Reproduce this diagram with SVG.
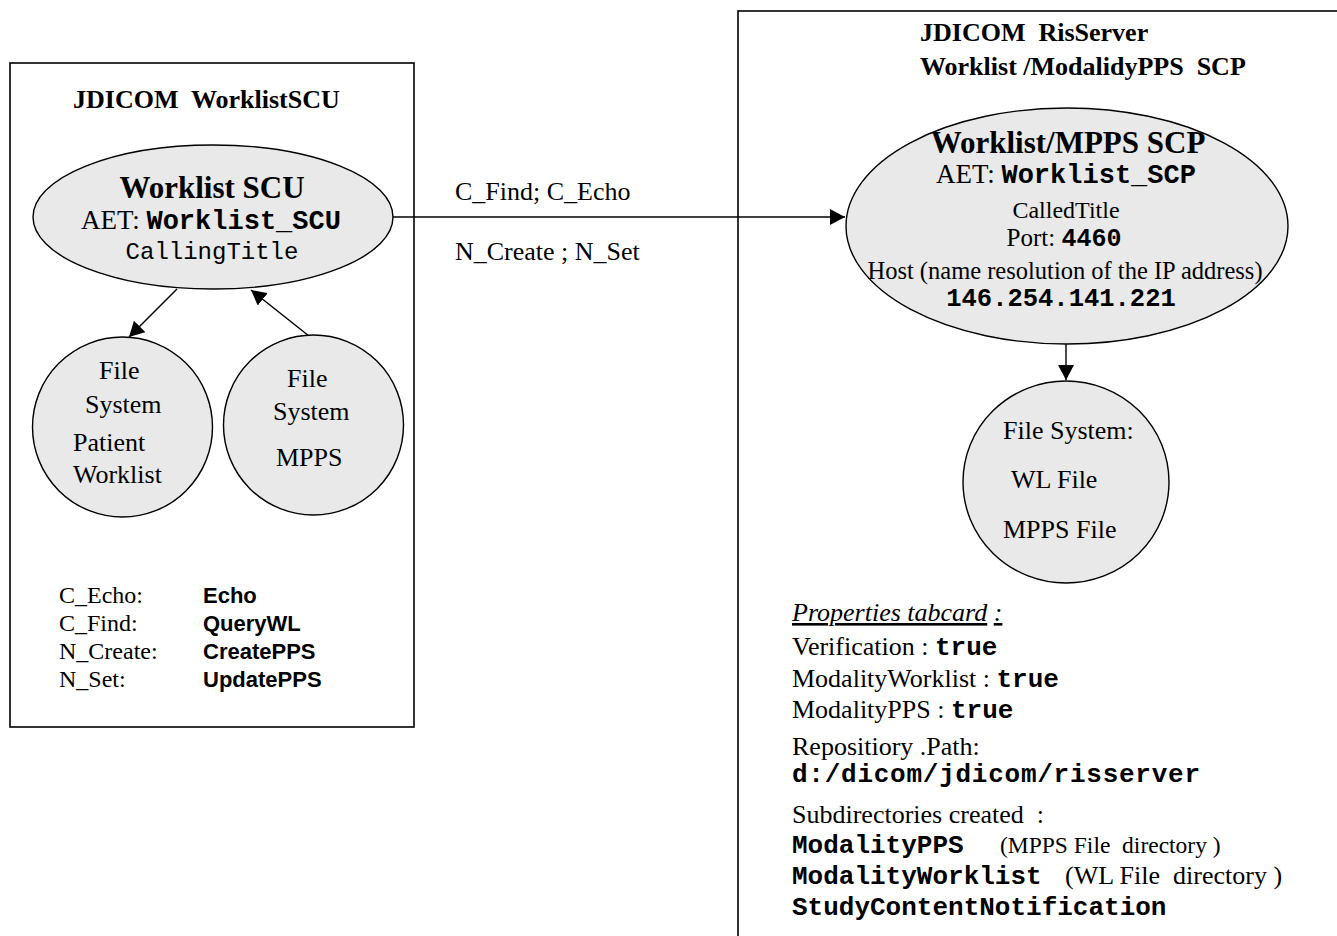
<svg xmlns="http://www.w3.org/2000/svg" width="1337" height="936" viewBox="0 0 1337 936">
<style>
.box{fill:#ffffff;stroke:#000;stroke-width:1.6}
.node{fill:#e9e9e9;stroke:#000;stroke-width:1.4}
.edge{fill:none;stroke:#000;stroke-width:1.4}
.t{font-family:"Liberation Serif","Times New Roman",serif;fill:#000;white-space:pre}
.b{font-weight:bold}
.m{font-family:"Liberation Mono","Courier New",monospace;fill:#000;white-space:pre}
.s{font-family:"Liberation Sans",Arial,sans-serif;font-weight:bold;fill:#000;font-size:22px}
</style>
<defs>
<marker id="arr" viewBox="0 0 15 16" refX="15" refY="8" markerWidth="15" markerHeight="16" markerUnits="userSpaceOnUse" orient="auto">
<path d="M0,0 L15,8 L0,16 Z" fill="#000"/>
</marker>
</defs>

<g id="scu-box">
<rect class="box" x="10" y="63" width="404" height="664"/>
<text class="t b" x="73" y="108" font-size="26">JDICOM  WorklistSCU</text>
</g>

<g id="scp-box">
<rect class="box" x="738" y="11" width="620" height="940"/>
<text class="t b" x="920" y="41" font-size="26">JDICOM  RisServer</text>
<text class="t b" x="920" y="75" font-size="26">Worklist /ModalidyPPS  SCP</text>
</g>

<g id="connectors">
<line class="edge" x1="393" y1="217" x2="845" y2="217" marker-end="url(#arr)"/>
<line class="edge" x1="177" y1="289" x2="129" y2="337" marker-end="url(#arr)"/>
<line class="edge" x1="309" y1="336" x2="251" y2="290" marker-end="url(#arr)"/>
<line class="edge" x1="1066" y1="344" x2="1066" y2="380" marker-end="url(#arr)"/>
<text class="t" x="455" y="200" font-size="26">C_Find; C_Echo</text>
<text class="t" x="455" y="260" font-size="26">N_Create ; N_Set</text>
</g>

<g id="worklist-scu">
<ellipse class="node" cx="213" cy="217" rx="180" ry="72"/>
<text class="t b" x="212" y="198" font-size="31" text-anchor="middle">Worklist SCU</text>
<text x="211" y="229" text-anchor="middle"><tspan class="t" font-size="27">AET: </tspan><tspan class="m b" font-size="27">Worklist_SCU</tspan></text>
<text class="m" x="212" y="259" font-size="24" text-anchor="middle">CallingTitle</text>
</g>

<g id="fs-patient-worklist">
<circle class="node" cx="122.5" cy="427" r="90"/>
<text class="t" x="99" y="379" font-size="26">File</text>
<text class="t" x="85" y="413" font-size="26">System</text>
<text class="t" x="73" y="451" font-size="26">Patient</text>
<text class="t" x="73" y="483" font-size="26">Worklist</text>
</g>

<g id="fs-mpps">
<circle class="node" cx="313.5" cy="425" r="90"/>
<text class="t" x="287" y="387" font-size="26">File</text>
<text class="t" x="273" y="420" font-size="26">System</text>
<text class="t" x="276" y="466" font-size="26">MPPS</text>
</g>

<g id="scu-commands">
<text class="t" x="59" y="603" font-size="24">C_Echo:</text>
<text class="t" x="59" y="631" font-size="24">C_Find:</text>
<text class="t" x="59" y="659" font-size="24">N_Create:</text>
<text class="t" x="59" y="687" font-size="24">N_Set:</text>
<text class="s" x="203" y="603">Echo</text>
<text class="s" x="203" y="631">QueryWL</text>
<text class="s" x="203" y="659">CreatePPS</text>
<text class="s" x="203" y="687">UpdatePPS</text>
</g>

<g id="worklist-mpps-scp">
<ellipse class="node" cx="1067" cy="226" rx="221" ry="118"/>
<text class="t b" x="1068" y="153" font-size="31" text-anchor="middle">Worklist/MPPS SCP</text>
<text x="1066" y="183" text-anchor="middle"><tspan class="t" font-size="27">AET: </tspan><tspan class="m b" font-size="27">Worklist_SCP</tspan></text>
<text class="t" x="1066" y="218" font-size="24" text-anchor="middle">CalledTitle</text>
<text x="1064" y="246" text-anchor="middle"><tspan class="t" font-size="25">Port: </tspan><tspan class="m b" font-size="25">4460</tspan></text>
<text class="t" x="1065" y="279" font-size="24.5" text-anchor="middle">Host (name resolution of the IP address)</text>
<text class="m b" x="1061" y="306" font-size="25.5" text-anchor="middle">146.254.141.221</text>
</g>

<g id="fs-scp">
<ellipse class="node" cx="1066" cy="482" rx="103" ry="101"/>
<text class="t" x="1003" y="439" font-size="26">File System:</text>
<text class="t" x="1011" y="488" font-size="26">WL File</text>
<text class="t" x="1003" y="538" font-size="26">MPPS File</text>
</g>

<g id="properties">
<text class="t" x="792" y="621" font-size="26" font-style="italic"><tspan text-decoration="underline">Properties tabcard</tspan> <tspan text-decoration="underline">:</tspan></text>
<text x="792" y="655"><tspan class="t" font-size="26">Verification : </tspan><tspan class="m b" font-size="26">true</tspan></text>
<text x="792" y="687"><tspan class="t" font-size="26">ModalityWorklist : </tspan><tspan class="m b" font-size="26">true</tspan></text>
<text x="792" y="718"><tspan class="t" font-size="26">ModalityPPS : </tspan><tspan class="m b" font-size="26">true</tspan></text>
<text class="t" x="792" y="755" font-size="26">Repositiory .Path:</text>
<text class="m b" x="792" y="782" font-size="26" textLength="408" lengthAdjust="spacing">d:/dicom/jdicom/risserver</text>
<text class="t" x="792" y="823" font-size="26">Subdirectories created  :</text>
<text class="m b" x="792" y="853" font-size="26">ModalityPPS</text>
<text class="t" x="1000" y="853" font-size="23.5">(MPPS File  directory )</text>
<text class="m b" x="792" y="884" font-size="26">ModalityWorklist</text>
<text class="t" x="1065" y="884" font-size="26">(WL File  directory )</text>
<text class="m b" x="792" y="915" font-size="26">StudyContentNotification</text>
</g>
</svg>
